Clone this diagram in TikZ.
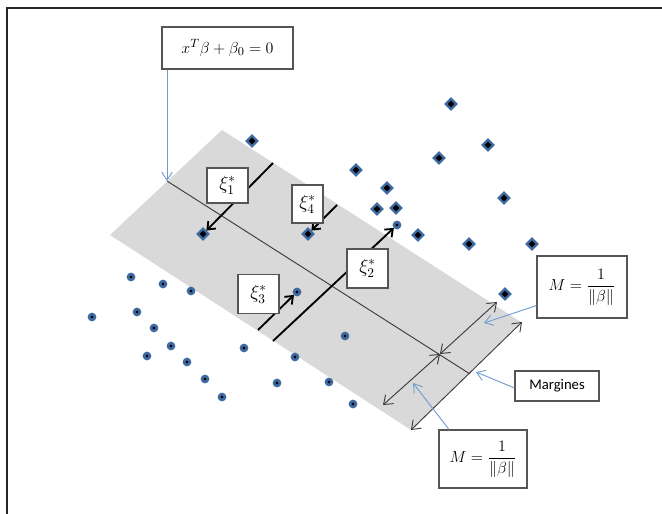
\documentclass[tikz,border=0pt]{standalone}
\usepackage{fontspec}
\newfontfamily\calibri{Carlito}
\usetikzlibrary{arrows.meta,shapes.geometric,calc}
\definecolor{bandgray}{RGB}{217,217,217}
\definecolor{ptblue}{RGB}{62,106,162}
\definecolor{lblue}{RGB}{112,156,208}
\definecolor{boxgray}{RGB}{85,85,85}
\definecolor{linegray}{RGB}{60,60,60}
\begin{document}
\begin{tikzpicture}[x=0.75pt,y=-0.75pt,
  lbl/.style={draw=boxgray,line width=0.8pt,fill=white,inner sep=0pt,align=center},
  xilbl/.style={lbl,font=\fontsize{14}{16}\selectfont},
  plus/.style={diamond,draw=ptblue,fill=black,line width=1.7pt,inner sep=0pt,minimum width=8.5pt,minimum height=8.5pt},
  minus/.style={circle,draw=ptblue,fill=black,line width=2pt,inner sep=0pt,minimum size=4.4pt},
  hyper/.style={draw=linegray,line width=0.7pt},
  xiarrow/.style={draw=black,line width=1.4pt,-{Straight Barb[length=5pt,width=8pt]}},
  marg/.style={draw=linegray,line width=0.7pt,{Straight Barb[length=6pt,width=9pt]}-{Straight Barb[length=6pt,width=9pt]}},
  bluearrow/.style={draw=lblue,line width=0.7pt,-{Straight Barb[length=6pt,width=8pt]}}]
\useasboundingbox (0,0) rectangle (662,514);
% frame
\draw[line width=0.9pt,black!85] (7,514) -- (7,8) -- (662,8);
% band
\fill[bandgray] (110,235) -- (222,130) -- (521,322) -- (411,430) -- cycle;
% hyperplane
\coordinate (hs) at (167,181);
\coordinate (he) at (470,374);
\draw[hyper] (hs) -- (he);
% margin arrows
\coordinate (m1) at (383,405);
\coordinate (mc) at (440,354);
\coordinate (m2) at (497,302);
\coordinate (e1) at (411,430);
\coordinate (e2) at (522,322);
\draw[marg] (m1) -- (mc);
\draw[marg] (mc) -- (m2);
\draw[marg] (e1) -- (e2);
% class +1 points
\node[plus] (d1) at (451,104) {};
\node[plus] (d2) at (252,141) {};
\node[plus] (d3) at (356,170) {};
\node[plus] (d4) at (439,158) {};
\node[plus] (d5) at (488,145) {};
\node[plus] (d6) at (387,188) {};
\node[plus] (d7) at (377,209) {};
\node[plus] (d8) at (396,208) {};
\node[plus] (d9) at (504,198) {};
\node[plus] (d10) at (418,235) {};
\node[plus] (d11) at (469,244) {};
\node[plus] (d12) at (532,244) {};
\node[plus] (d13) at (505,294) {};
\node[plus] (sv1) at (203,234) {};
\node[plus] (sv4) at (308,234) {};
% class -1 points
\node[minus] (c1) at (131,277) {};
\node[minus] (c2) at (163,284) {};
\node[minus] (c3) at (191,291) {};
\node[minus] (c4) at (92,317) {};
\node[minus] (c5) at (137,312) {};
\node[minus] (c6) at (154,328) {};
\node[minus] (c7) at (171,346) {};
\node[minus] (c8) at (147,356) {};
\node[minus] (c9) at (187,362) {};
\node[minus] (c10) at (205,379) {};
\node[minus] (c11) at (222,397) {};
\node[minus] (c12) at (244,348) {};
\node[minus] (c13) at (277,383) {};
\node[minus] (c14) at (295,357) {};
\node[minus] (c15) at (345,336) {};
\node[minus] (c16) at (329,382) {};
\node[minus] (c17) at (353,404) {};
\node[minus] (sv3) at (297,292) {};
\node[minus] (sv2) at (397,225) {};
% slack arrows
\coordinate (s1) at (273,163);
\coordinate (s4) at (337,205);
\coordinate (s2) at (273,341);
\coordinate (s3) at (258,330);
\draw[xiarrow] (s1) -- (sv1);
\draw[xiarrow] (s4) -- (sv4);
\draw[xiarrow] (s2) -- (sv2);
\draw[xiarrow] (s3) -- (sv3);
% slack labels
\node[xilbl,minimum width=30.75pt,minimum height=26.25pt] (x1) at (227.5,185.5) {$\xi_1^*$};
\node[xilbl,minimum width=23.25pt,minimum height=28.5pt] (x4) at (307.5,204) {$\xi_4^*$};
\node[xilbl,minimum width=30.75pt,minimum height=29.25pt] (x2) at (367.5,268.5) {$\xi_2^*$};
\node[xilbl,minimum width=30.75pt,minimum height=29.25pt] (x3) at (258.5,294) {$\xi_3^*$};
% labels
\node[lbl,font=\fontsize{12.5}{15}\selectfont,minimum width=98.25pt,minimum height=31.5pt] (hyp) at (227.5,48) {$x^{T}\beta+\beta_{0}=0$};
\node[lbl,font=\fontsize{13}{15}\selectfont,minimum width=67.5pt,minimum height=46.5pt] (mr) at (582,287) {$M=\displaystyle\frac{1}{\left\|\beta\right\|}$};
\node[lbl,minimum width=63pt,minimum height=22.5pt,font=\calibri\fontsize{11}{13}\selectfont] (mg) at (557,386) {Margines};
\node[lbl,font=\fontsize{13}{15}\selectfont,minimum width=66pt,minimum height=43.5pt] (mb) at (483,459) {$M=\displaystyle\frac{1}{\left\|\beta\right\|}$};
% blue arrows
\coordinate (t1) at (484,323);
\coordinate (t2) at (476,372);
\coordinate (t3) at (413,383);
\draw[bluearrow] (hyp.south -| hs) -- (hs);
\draw[bluearrow] ($(mr.south west)+(0,-13)$) -- (t1);
\draw[bluearrow] ($(mg.west)+(0,2)$) -- (t2);
\draw[bluearrow] (mb.north -| 449,0) -- (t3);
\end{tikzpicture}
\end{document}
